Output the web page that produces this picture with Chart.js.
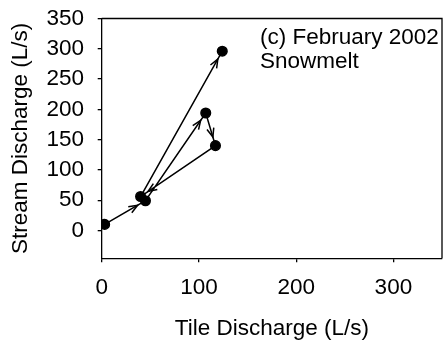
<!DOCTYPE html>
<html><head><meta charset="utf-8">
<script src="https://cdn.jsdelivr.net/npm/chart.js@4/dist/chart.umd.min.js"></script>
<style>html,body{margin:0;padding:0;background:#fff;overflow:hidden;}</style>
</head><body>
<canvas id="c" width="445" height="343"></canvas>
<script>
// ---- data ----
const tileDischarge   = [3, 45, 107, 117, 40, 124];   // x, L/s (in time order)
const streamDischarge = [10, 49, 194, 140, 56, 296];  // y, L/s
const xTickValues = [0, 100, 200, 300];
const yTickValues = [0, 50, 100, 150, 200, 250, 300, 350];
const annotationLines = ['(c) February 2002', 'Snowmelt'];
const xTitle = 'Tile Discharge (L/s)';
const yTitle = 'Stream Discharge (L/s)';

const FAMILY = '"Liberation Sans", Arial, Helvetica, sans-serif';
const FS = 22.5;
const PLOT_RIGHT = 442;
Chart.defaults.font.family = FAMILY;
Chart.defaults.color = '#000';

const points = tileDischarge.map((x, i) => ({x: x, y: streamDischarge[i]}));

const rightEdgePlugin = {
  id: 'rightEdge',
  afterLayout(chart) {
    const x = chart.scales.x;
    x.right = PLOT_RIGHT;
    x.width = x.right - x.left;
    x.configure();
    const ca = chart.chartArea;
    ca.right = PLOT_RIGHT;
    ca.width = ca.right - ca.left;
  }
};

const arrowPlugin = {
  id: 'arrows',
  afterDatasetsDraw(chart) {
    const ctx = chart.ctx;
    const meta = chart.getDatasetMeta(0);
    ctx.save();
    ctx.strokeStyle = '#000';
    ctx.lineWidth = 1.5;
    for (let i = 1; i < meta.data.length; i++) {
      const a = meta.data[i - 1], b = meta.data[i];
      const ang = Math.atan2(b.y - a.y, b.x - a.x);
      const tipX = b.x - Math.cos(ang) * 9;
      const tipY = b.y - Math.sin(ang) * 9;
      const L = 9.5, spread = 0.38;
      ctx.beginPath();
      ctx.moveTo(tipX - L * Math.cos(ang - spread), tipY - L * Math.sin(ang - spread));
      ctx.lineTo(tipX, tipY);
      ctx.lineTo(tipX - L * Math.cos(ang + spread), tipY - L * Math.sin(ang + spread));
      ctx.stroke();
    }
    ctx.restore();
  }
};

const framePlugin = {
  id: 'frame',
  afterDraw(chart) {
    const {ctx, chartArea: ca} = chart;
    ctx.save();
    ctx.strokeStyle = '#000';
    ctx.lineWidth = 1.3;
    ctx.beginPath();
    ctx.moveTo(ca.left, ca.top);
    ctx.lineTo(ca.right, ca.top);
    ctx.lineTo(ca.right, ca.bottom);
    ctx.stroke();
    ctx.fillStyle = '#000';
    ctx.font = FS + 'px ' + FAMILY;
    ctx.textAlign = 'left';
    ctx.textBaseline = 'alphabetic';
    ctx.fillText(annotationLines[0], 260, 44.3);
    ctx.fillText(annotationLines[1], 260, 67.7);
    ctx.restore();
  }
};

new Chart(document.getElementById('c'), {
  type: 'scatter',
  data: {
    datasets: [{
      data: points,
      showLine: true,
      borderColor: '#000',
      borderWidth: 1.5,
      pointBackgroundColor: '#000',
      pointBorderColor: '#000',
      pointRadius: 4.8,
      pointHoverRadius: 4.8,
      tension: 0
    }]
  },
  options: {
    responsive: false,
    devicePixelRatio: 1,
    animation: false,
    events: [],
    layout: {padding: {top: 18.5, right: 3, bottom: 0, left: 0}},
    plugins: {legend: {display: false}, tooltip: {enabled: false}},
    scales: {
      x: {
        type: 'linear',
        min: 0, max: 350,
        afterBuildTicks: s => { s.ticks = xTickValues.map(v => ({value: v})); },
        afterFit: s => { s.height = 343 - 258.3; },
        grid: {drawOnChartArea: false, drawTicks: true, tickLength: 4, color: '#000', lineWidth: 1.3},
        border: {display: true, color: '#000', width: 1.3},
        ticks: {color: '#000', font: {size: FS}, padding: 11.5, maxRotation: 0, autoSkip: false},
        title: {display: true, text: xTitle, color: '#000', font: {size: FS}, padding: {top: 0, bottom: 1}}
      },
      y: {
        type: 'linear',
        min: -46, max: 350,
        afterBuildTicks: s => { s.ticks = yTickValues.map(v => ({value: v})); },
        afterFit: s => { s.width = 101.7; s.paddingTop = 0; s.paddingBottom = 0; },
        grid: {drawOnChartArea: false, drawTicks: true, tickLength: 4, color: '#000', lineWidth: 1.3},
        border: {display: true, color: '#000', width: 1.3},
        ticks: {color: '#000', font: {size: FS}, padding: 13.7, autoSkip: false},
        title: {display: true, text: yTitle, color: '#000', font: {size: FS}, padding: {top: 7.5, bottom: 0}}
      }
    }
  },
  plugins: [rightEdgePlugin, arrowPlugin, framePlugin]
});
</script>
</body></html>
